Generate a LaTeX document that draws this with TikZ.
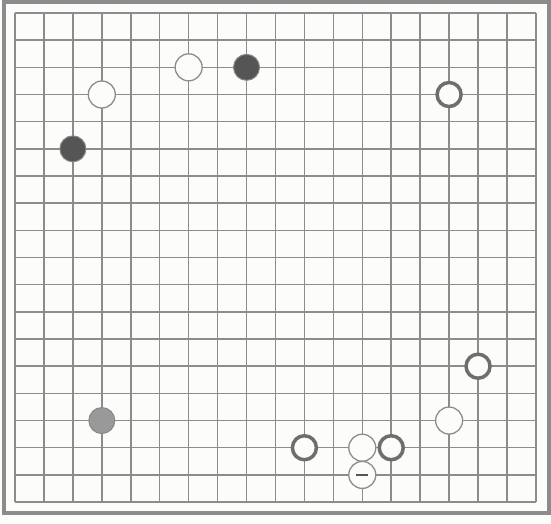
\documentclass[tikz,border=0pt]{standalone}
\usepackage{tikz}

\definecolor{boardline}{RGB}{140,140,140}
\definecolor{stonedark}{RGB}{85,85,85}
\definecolor{paper}{RGB}{252,252,250}

\tikzset{
  whitestone/.style={circle, draw=boardline, line width=1.3pt, fill=paper, minimum size=27pt, inner sep=0pt},
  ringstone/.style={circle, draw=stonedark!85, line width=3.5pt, fill=paper, minimum size=24pt, inner sep=0pt},
  blackstone/.style={circle, draw=stonedark!70, line width=1pt, fill=stonedark, minimum size=26pt, inner sep=0pt},
}

\begin{document}
\begin{tikzpicture}[x=1pt,y=-1pt]
  \useasboundingbox (0,0) rectangle (551,523);
  \fill[paper] (0,0) rectangle (551,523);

  % frame
  \draw[boardline, line width=3.5pt] (4,2) rectangle (549,513);

  % grid
  \foreach \i in {0,...,18} {
    \draw[boardline, line width=1.5pt] (15+28.94*\i,13) -- (15+28.94*\i,502);
    \draw[boardline, line width=1.5pt] (15,13+27.17*\i) -- (536,13+27.17*\i);
  }

  % stones
  \node[blackstone] (b1) at (15+28.94*8,13+27.17*2) {};
  \node[blackstone] (b2) at (15+28.94*2,13+27.17*5) {};
  \node[blackstone, fill=stonedark!60] (b3) at (15+28.94*3,13+27.17*15) {};

  \node[whitestone] (w1) at (15+28.94*6,13+27.17*2) {};
  \node[whitestone] (w2) at (15+28.94*3,13+27.17*3) {};
  \node[whitestone] (w3) at (15+28.94*15,13+27.17*15) {};
  \node[whitestone] (w4) at (15+28.94*12,13+27.17*16) {};
  \node[whitestone] (w5) at (15+28.94*12,13+27.17*17) {};
  \draw[stonedark, line width=2pt] ([xshift=-6pt]w5.center) -- ([xshift=6pt]w5.center);

  \node[ringstone] (r1) at (15+28.94*15,13+27.17*3) {};
  \node[ringstone] (r2) at (15+28.94*16,13+27.17*13) {};
  \node[ringstone] (r3) at (15+28.94*10,13+27.17*16) {};
  \node[ringstone] (r4) at (15+28.94*13,13+27.17*16) {};
\end{tikzpicture}
\end{document}
